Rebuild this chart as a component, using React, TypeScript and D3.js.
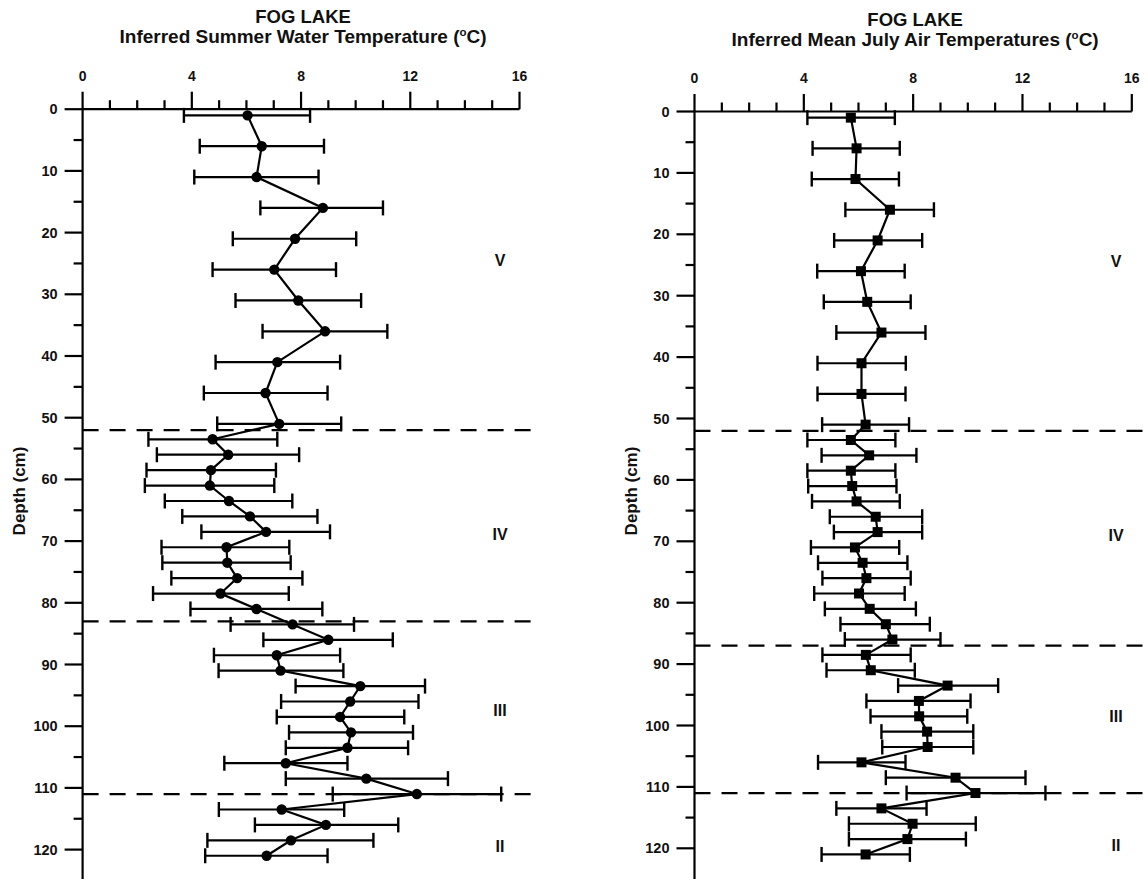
import React from "react";
import * as d3 from "d3";

// ---- data ----
const depths = [1, 6, 11, 16, 21, 26, 31, 36, 41, 46, 51, 53.5, 56, 58.5, 61, 63.5, 66, 68.5, 71, 73.5, 76, 78.5, 81, 83.5, 86, 88.5, 91, 93.5, 96, 98.5, 101, 103.5, 106, 108.5, 111, 113.5, 116, 118.5, 121];

const waterTemp = [6.04, 6.56, 6.37, 8.8, 7.78, 7.02, 7.9, 8.88, 7.13, 6.7, 7.2, 4.76, 5.33, 4.7, 4.66, 5.36, 6.13, 6.72, 5.27, 5.3, 5.66, 5.05, 6.37, 7.69, 9.0, 7.11, 7.25, 10.17, 9.8, 9.43, 9.83, 9.7, 7.44, 10.39, 12.24, 7.29, 8.91, 7.63, 6.74];
const waterLow = [3.71, 4.29, 4.09, 6.51, 5.5, 4.76, 5.6, 6.59, 4.87, 4.44, 4.93, 2.41, 2.72, 2.34, 2.28, 3.01, 3.65, 4.35, 2.89, 2.92, 3.25, 2.58, 3.95, 5.42, 6.62, 4.81, 4.98, 7.8, 7.27, 7.11, 7.56, 7.44, 5.19, 7.44, 9.16, 4.99, 6.31, 4.57, 4.49];
const waterHigh = [8.33, 8.84, 8.64, 11.0, 10.02, 9.28, 10.2, 11.16, 9.43, 8.97, 9.47, 7.13, 7.93, 7.08, 7.02, 7.68, 8.6, 9.06, 7.57, 7.62, 8.05, 7.55, 8.78, 9.94, 11.36, 9.43, 9.55, 12.54, 12.3, 11.78, 12.1, 11.92, 9.7, 13.38, 15.33, 9.58, 11.56, 10.65, 8.97];

const airTemp = [5.72, 5.93, 5.89, 7.15, 6.7, 6.09, 6.32, 6.84, 6.11, 6.11, 6.26, 5.72, 6.39, 5.72, 5.77, 5.93, 6.63, 6.7, 5.87, 6.15, 6.29, 6.02, 6.41, 7.0, 7.24, 6.27, 6.45, 9.26, 8.21, 8.22, 8.51, 8.53, 6.11, 9.55, 10.28, 6.84, 7.98, 7.79, 6.26];
const airLow = [4.13, 4.32, 4.29, 5.52, 5.11, 4.49, 4.73, 5.19, 4.5, 4.5, 4.67, 4.13, 4.65, 4.13, 4.16, 4.3, 4.95, 5.1, 4.26, 4.52, 4.68, 4.38, 4.77, 5.34, 5.5, 4.68, 4.83, 7.45, 6.29, 6.44, 6.84, 6.87, 4.52, 7.0, 7.76, 5.19, 5.65, 5.65, 4.65];
const airHigh = [7.33, 7.51, 7.48, 8.76, 8.33, 7.69, 7.91, 8.45, 7.73, 7.72, 7.85, 7.35, 8.12, 7.35, 7.39, 7.51, 8.33, 8.33, 7.49, 7.79, 7.91, 7.69, 8.1, 8.61, 9.0, 7.91, 8.06, 11.11, 10.1, 9.98, 10.2, 10.2, 7.72, 12.11, 12.84, 8.49, 10.29, 9.93, 7.88];

const xTickLabels = [0, 4, 8, 12, 16];
const depthTickLabels = [0, 10, 20, 30, 40, 50, 60, 70, 80, 90, 100, 110, 120];

const waterZoneBoundaries = [52, 83, 111];
const airZoneBoundaries = [52, 87, 111];
const zoneNames = ["V", "IV", "III", "II"];
const waterZoneDepths = [24.5, 69, 97.5, 119.5];
const airZoneDepths = [24.5, 69, 98.5, 119.5];

const titleLine1 = "FOG LAKE";
const waterTitle = "Inferred Summer Water Temperature (";
const airTitle = "Inferred Mean July Air Temperatures (";

const FONT = "'Liberation Sans', Arial, Helvetica, sans-serif";

type PanelProps = {
  x0: number;
  x1: number;
  y0: number;
  perCm: number;
  values: number[];
  low: number[];
  high: number[];
  marker: "circle" | "square";
  title: string;
  boundaries: number[];
  dashEnd: number;
  zoneDepths: number[];
  zoneX: number;
};

function Panel(p: PanelProps) {
  const x = d3.scaleLinear().domain([0, 16]).range([p.x0, p.x1]);
  const y = d3.scaleLinear().domain([0, 120]).range([p.y0, p.y0 + 120 * p.perCm]);
  const bottom = 879;
  const minorX = d3.range(0, 17, 1);
  const minorY = d3.range(0, 126, 5).filter((d) => y(d) < bottom);
  const pts = depths.map((d, i) => [x(p.values[i]), y(d)] as [number, number]);
  const line = d3.line()(pts) || "";
  const cx = (p.x0 + p.x1) / 2 + 2;
  const cap = 7.5;
  return (
    <g>
      {/* title */}
      <text x={cx} y={p.y0 - 86} textAnchor="middle" fontFamily={FONT} fontWeight="bold" fontSize={18.5} fill="#111">
        {titleLine1}
      </text>
      <text x={cx} y={p.y0 - 66} textAnchor="middle" fontFamily={FONT} fontWeight="bold" fontSize={19} fill="#111">
        {p.title}
        <tspan fontSize={11.5} dy={-7}>o</tspan>
        <tspan dy={7}>C)</tspan>
      </text>
      {/* depth label */}
      <text
        transform={`translate(${p.x0 - 63},${491}) rotate(-90)`}
        textAnchor="middle"
        dominantBaseline="central"
        fontFamily={FONT}
        fontWeight="bold"
        fontSize={17}
        fill="#111"
      >
        Depth (cm)
      </text>
      {/* top axis */}
      <line x1={p.x0} x2={p.x1} y1={p.y0} y2={p.y0} stroke="#000" strokeWidth={2.2} />
      {minorX.map((v) => (
        <line key={"xt" + v} x1={x(v)} x2={x(v)} y1={p.y0} y2={p.y0 - (v % 4 === 0 ? 17.5 : 9)} stroke="#000" strokeWidth={2.2} />
      ))}
      {xTickLabels.map((v) => (
        <text key={"xl" + v} x={x(v)} y={p.y0 - 28.5} textAnchor="middle" fontFamily={FONT} fontWeight="bold" fontSize={14} fill="#111">
          {v}
        </text>
      ))}
      {/* left axis */}
      <line x1={p.x0} x2={p.x0} y1={p.y0 - 1} y2={bottom} stroke="#000" strokeWidth={2.2} />
      {minorY.map((v) => (
        <line key={"yt" + v} x1={p.x0} x2={p.x0 - (v % 10 === 0 ? 18 : 9)} y1={y(v)} y2={y(v)} stroke="#000" strokeWidth={2.2} />
      ))}
      {depthTickLabels.map((v) => (
        <text key={"yl" + v} x={p.x0 - 25} y={y(v)} textAnchor="end" dominantBaseline="central" fontFamily={FONT} fontWeight="bold" fontSize={14.5} fill="#111">
          {v}
        </text>
      ))}
      {/* zone boundaries */}
      {p.boundaries.map((b) => (
        <line key={"b" + b} x1={p.x0} x2={p.dashEnd} y1={y(b)} y2={y(b)} stroke="#000" strokeWidth={2.2} strokeDasharray="16,11" />
      ))}
      {zoneNames.map((z, i) => (
        <text key={"z" + z} x={p.zoneX} y={y(p.zoneDepths[i])} textAnchor="middle" dominantBaseline="central" fontFamily={FONT} fontWeight="bold" fontSize={16} fill="#111">
          {z}
        </text>
      ))}
      {/* error bars */}
      {depths.map((d, i) => {
        const yy = y(d);
        const a = x(p.low[i]);
        const b = x(p.high[i]);
        return (
          <g key={"e" + i}>
            <line x1={a} x2={b} y1={yy} y2={yy} stroke="#000" strokeWidth={2.2} />
            <line x1={a} x2={a} y1={yy - cap} y2={yy + cap} stroke="#000" strokeWidth={2.4} />
            <line x1={b} x2={b} y1={yy - cap} y2={yy + cap} stroke="#000" strokeWidth={2.4} />
          </g>
        );
      })}
      {/* connecting line */}
      <path d={line} fill="none" stroke="#000" strokeWidth={2.2} />
      {/* markers */}
      {pts.map(([px, py], i) =>
        p.marker === "circle" ? (
          <circle key={"m" + i} cx={px} cy={py} r={5.2} fill="#000" />
        ) : (
          <rect key={"m" + i} x={px - 5} y={py - 5} width={10} height={10} fill="#000" />
        )
      )}
    </g>
  );
}

export default function App() {
  return (
    <svg
      width={1148}
      height={879}
      style={{ position: "absolute", left: 0, top: 0, background: "#fff" }}
    >
      <rect width={1148} height={879} fill="#fff" />
      <Panel
        x0={82.6}
        x1={519.5}
        y0={109.2}
        perCm={6.17}
        values={waterTemp}
        low={waterLow}
        high={waterHigh}
        marker="circle"
        title={waterTitle}
        boundaries={waterZoneBoundaries}
        dashEnd={541}
        zoneDepths={waterZoneDepths}
        zoneX={500}
      />
      <Panel
        x0={694.5}
        x1={1131.8}
        y0={111.5}
        perCm={6.14}
        values={airTemp}
        low={airLow}
        high={airHigh}
        marker="square"
        title={airTitle}
        boundaries={airZoneBoundaries}
        dashEnd={1148}
        zoneDepths={airZoneDepths}
        zoneX={1116}
      />
    </svg>
  );
}
